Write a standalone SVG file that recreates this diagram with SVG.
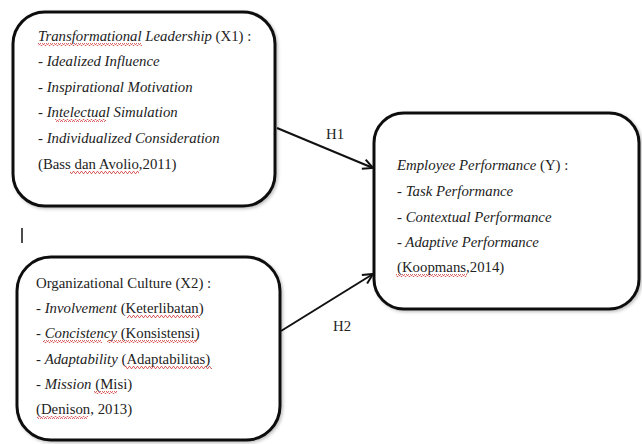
<svg xmlns="http://www.w3.org/2000/svg" width="642" height="444" viewBox="0 0 642 444">
<defs>
<style>
.box{fill:#fff;stroke:#111;stroke-width:3}
.t{font-family:'Liberation Serif','DejaVu Serif',serif;font-size:14.8px;fill:#222}
.i{font-style:italic}
.c{stroke:#111;stroke-width:2;fill:none}
.sq{fill:url(#wave)}
</style>
<pattern id="wave" width="4" height="3" patternUnits="userSpaceOnUse">
<path d="M0,2.5 L1,0.5 L2,0.5 L3,2.5 L4,2.5" stroke="#d04040" stroke-width="0.8" fill="none"/>
</pattern>
<marker id="arr" viewBox="0 0 12 12" refX="11" refY="6" markerWidth="12" markerHeight="12" markerUnits="userSpaceOnUse" orient="auto">
<path d="M1,1 L11,6 L1,11" stroke="#111" stroke-width="2" fill="none"/>
</marker>
<filter id="sh" x="-10%" y="-10%" width="120%" height="120%">
<feDropShadow dx="1.5" dy="1.5" stdDeviation="1.5" flood-color="#000" flood-opacity="0.25"/>
</filter>
</defs>
<rect width="642" height="444" fill="#fff"/>
<g id="connectors">
<line class="c" x1="277" y1="128" x2="373" y2="168" marker-end="url(#arr)"/>
<line class="c" x1="281" y1="331" x2="373" y2="274" marker-end="url(#arr)"/>
<text class="t" x="335" y="139" text-anchor="middle">H1</text>
<text class="t" x="342" y="331" text-anchor="middle">H2</text>
</g>
<line x1="22" y1="228" x2="22" y2="243" stroke="#111" stroke-width="1.5"/>
<g id="x1">
<rect class="box" x="13" y="12" width="262" height="194" rx="32" filter="url(#sh)"/>
<text class="t" x="38" y="41"><tspan class="i">Transformational Leadership</tspan> (X1) :</text>
<text class="t i" x="38" y="66">- Idealized Influence</text>
<text class="t i" x="38" y="92">- Inspirational Motivation</text>
<text class="t i" x="38" y="117">- Intelectual Simulation</text>
<text class="t i" x="38" y="143">- Individualized Consideration</text>
<text class="t" x="38" y="169">(Bass dan Avolio,2011)</text>
<rect class="sq" x="38" y="43" width="104" height="3"/>
<rect class="sq" x="55" y="119" width="51" height="3"/>
<rect class="sq" x="70" y="171" width="69" height="3"/>
</g>
<g id="x2">
<rect class="box" x="17" y="257" width="263" height="183" rx="34" filter="url(#sh)"/>
<text class="t" x="36" y="288">Organizational Culture (X2) :</text>
<text class="t" x="36" y="313">- <tspan class="i">Involvement</tspan> (Keterlibatan)</text>
<text class="t" x="36" y="338">- <tspan class="i">Concistency</tspan> (Konsistensi)</text>
<text class="t" x="36" y="364">- <tspan class="i">Adaptability</tspan> (Adaptabilitas)</text>
<text class="t" x="36" y="389">- <tspan class="i">Mission</tspan> (Misi)</text>
<text class="t" x="36" y="414">(Denison, 2013)</text>
<rect class="sq" x="127" y="315" width="73" height="3"/>
<rect class="sq" x="43" y="340" width="59" height="3"/>
<rect class="sq" x="107" y="340" width="90" height="3"/>
<rect class="sq" x="125" y="366" width="87" height="3"/>
<rect class="sq" x="94" y="391" width="23" height="3"/>
<rect class="sq" x="37" y="416" width="51" height="3"/>
</g>
<g id="y">
<rect class="box" x="374" y="113" width="265" height="196" rx="30" filter="url(#sh)"/>
<text class="t" x="397" y="170"><tspan class="i">Employee Performance</tspan> (Y) :</text>
<text class="t i" x="397" y="196">- Task Performance</text>
<text class="t i" x="397" y="222">- Contextual Performance</text>
<text class="t i" x="397" y="247">- Adaptive Performance</text>
<text class="t" x="397" y="272">(Koopmans,2014)</text>
<rect class="sq" x="396" y="274" width="71" height="3"/>
</g>
</svg>
